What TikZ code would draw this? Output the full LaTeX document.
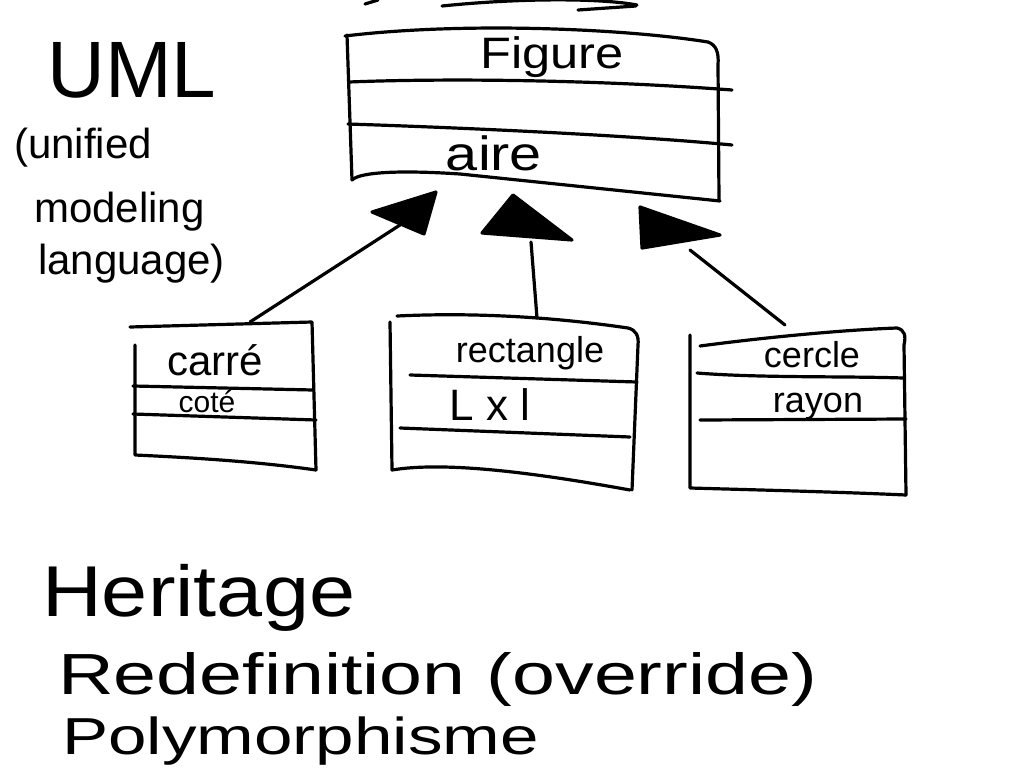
\documentclass[tikz,border=0pt]{standalone}
\usepackage{fontspec}
\setmainfont{Liberation Sans}
\begin{document}
\begin{tikzpicture}[x=1pt,y=-1pt,
  ink/.style={line width=3.2pt, line cap=round, line join=round},
  head/.style={ink, fill=black},
  txt/.style={inner sep=0pt, anchor=base}]
\useasboundingbox (0,0) rectangle (1024,768);

% scribbles at the very top
\draw[ink] (442,6) .. controls (520,-2) and (600,-2) .. (637,5);
\draw[ink] (578,10) -- (636,6);
\draw[ink] (365,4) -- (378,0);

% ---- class Figure ----
\draw[ink] (345,36) .. controls (460,22) and (620,28) .. (708,42) .. controls (716,45) and (719,52) .. (718,65) -- (719,200);
\draw[ink] (347,35) -- (352,180);
\draw[ink] (352,180) .. controls (360,172) and (400,170) .. (460,174) -- (720,201);
\draw[ink] (349,82) .. controls (450,78) and (600,80) .. (732,90);
\draw[ink] (348,124) .. controls (500,129) and (650,137) .. (732,145);
\node[txt, font=\fontsize{44}{44}\selectfont] (fig) at (552,68) {\scalebox{1.15}[1]{Figure}};
\node[txt, font=\fontsize{48}{48}\selectfont] (aire) at (494,170) {\scalebox{1.2}[1]{aire}};

% ---- class carré ----
\draw[ink] (130,327) -- (312,322) -- (316,470);
\draw[ink] (135,345) -- (135,455) .. controls (200,458) and (260,462) .. (316,470);
\draw[ink] (133,386) -- (313,390);
\draw[ink] (133,414) -- (316,420);
\node[txt, font=\fontsize{42}{42}\selectfont] (carre) at (215,375) {carré};
\node[txt, font=\fontsize{30}{30}\selectfont] (cote) at (207,412) {coté};

% ---- class rectangle ----
\draw[ink] (397,316) .. controls (480,312) and (560,318) .. (628,328) .. controls (636,330) and (639,336) .. (638,345) -- (632,490);
\draw[ink] (390,322) -- (392,470) .. controls (440,462) and (520,470) .. (630,490);
\draw[ink] (410,375) -- (637,382);
\draw[ink] (400,428) -- (630,437);
\node[txt, font=\fontsize{36}{36}\selectfont] (rect) at (530,362) {rectangle};
\node[txt, font=\fontsize{44}{44}\selectfont] (lxl) at (490,420) {L x l};

% ---- class cercle ----
\draw[ink] (700,346) .. controls (760,338) and (840,330) .. (897,328) .. controls (905,330) and (906,336) .. (904,345) -- (906,495);
\draw[ink] (690,335) -- (690,488) .. controls (760,490) and (840,492) .. (906,495);
\draw[ink] (697,373) .. controls (760,378) and (840,376) .. (903,378);
\draw[ink] (700,420) -- (906,419);
\node[txt, font=\fontsize{36}{36}\selectfont] (cerc) at (812,367) {cercle};
\node[txt, font=\fontsize{36}{36}\selectfont] (rayon) at (818,412) {rayon};

% ---- inheritance arrows ----
\coordinate (cTop) at (250,322);
\coordinate (cTip) at (400,225);
\coordinate (rTop) at (537,318);
\coordinate (rTip) at (531,242);
\coordinate (kTop) at (785,325);
\coordinate (kTip) at (690,250);
\draw[ink] (cTop) -- (cTip);
\draw[ink] (rTop) -- (rTip);
\draw[ink] (kTop) -- (kTip);
\filldraw[head] (372,212) -- (436,192) -- (424,234) -- cycle;
\filldraw[head] (513,195) -- (482,233) -- (572,240) -- cycle;
\filldraw[head] (640,207) -- (642,248) -- (720,235) -- cycle;

% ---- left notes ----
\node[txt, font=\fontsize{80}{80}\selectfont] (uml) at (132,97) {UML};
\node[txt, font=\fontsize{42}{42}\selectfont, anchor=base west] (l1) at (14,158) {(unified};
\node[txt, font=\fontsize{42}{42}\selectfont, anchor=base west] (l2) at (34,222) {modeling};
\node[txt, font=\fontsize{42}{42}\selectfont, anchor=base west] (l3) at (38,274) {language)};

% ---- bottom notes ----
\node[txt, font=\fontsize{72}{72}\selectfont, anchor=base west] (h1) at (42,616) {\scalebox{1.15}[1]{Heritage}};
\node[txt, font=\fontsize{58}{58}\selectfont, anchor=base west] (h2) at (58,694) {\scalebox{1.33}[1]{Redefinition (override)}};
\node[txt, font=\fontsize{52}{52}\selectfont, anchor=base west] (h3) at (62,754) {\scalebox{1.33}[1]{Polymorphisme}};
\end{tikzpicture}
\end{document}
